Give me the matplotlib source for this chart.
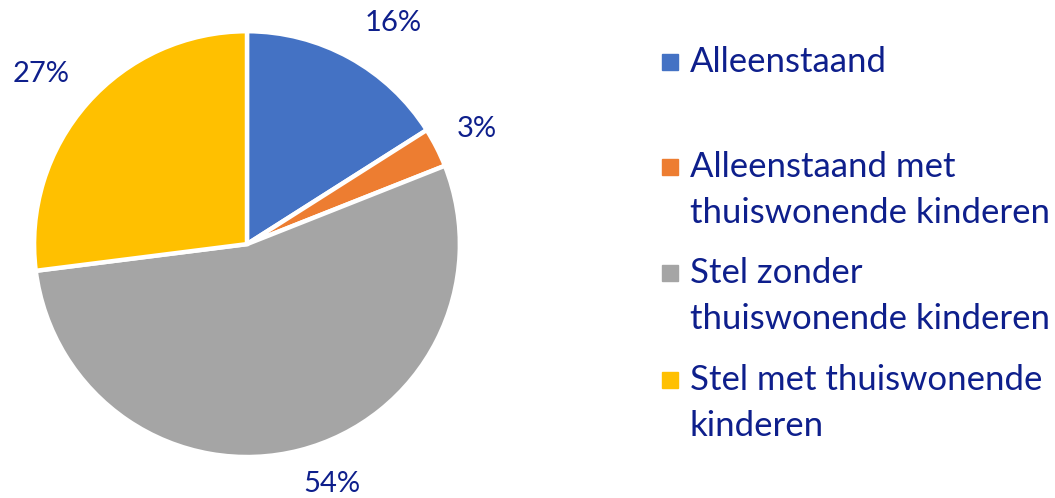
import numpy as np
import matplotlib.pyplot as plt
from matplotlib.patches import Rectangle

categories = ['Alleenstaand',
              'Alleenstaand met\nthuiswonende kinderen',
              'Stel zonder\nthuiswonende kinderen',
              'Stel met thuiswonende\nkinderen']
shares = [16, 3, 54, 27]
colors = ['#4472C4', '#ED7D31', '#A5A5A5', '#FFC000']
text_color = '#0E1F8C'

plt.rcParams['font.family'] = ['Lato', 'DejaVu Sans']

fig = plt.figure(figsize=(10.55, 4.98), dpi=100)

# pie axes: centre ~ (247, 244) px, radius ~ 213 px
ax = fig.add_axes([0.0322, 0.0823, 0.4038, 0.855])
wedges, texts = ax.pie(shares, colors=colors, startangle=90, counterclock=False,
                       labels=[f'{v}%' for v in shares], labeldistance=1.22,
                       wedgeprops=dict(edgecolor='white', linewidth=3.2),
                       textprops=dict(color=text_color, fontsize=21))
ax.set_xlim(-1, 1)
ax.set_ylim(-1, 1)
ax.set_aspect('equal')

# Excel-ish label placement: radius and small angle nudge per label
label_r = [1.245, 1.21, 1.196, 1.252]
label_da = [-4.7, -0.4, 5.1, 1.8]
for t, w, r, da in zip(texts, wedges, label_r, label_da):
    ang = np.deg2rad((w.theta1 + w.theta2) / 2 + da)
    t.set_position((r * np.cos(ang), r * np.sin(ang)))
    t.set_ha('center')
    t.set_va('center')

# legend drawn by hand (Excel-like uneven spacing)
legend_y = [62, 167, 273, 380]
for lab, col, y in zip(categories, colors, legend_y):
    yf = 1 - y / 498
    fig.patches.append(Rectangle((662 / 1055, yf - 8 / 498), 16 / 1055, 16 / 498,
                                 transform=fig.transFigure, color=col))
    fig.text(690 / 1055, yf + 16 / 498, lab, ha='left', va='top', color=text_color,
             fontsize=25, linespacing=1.55)

fig.savefig('out.png', dpi=100)
